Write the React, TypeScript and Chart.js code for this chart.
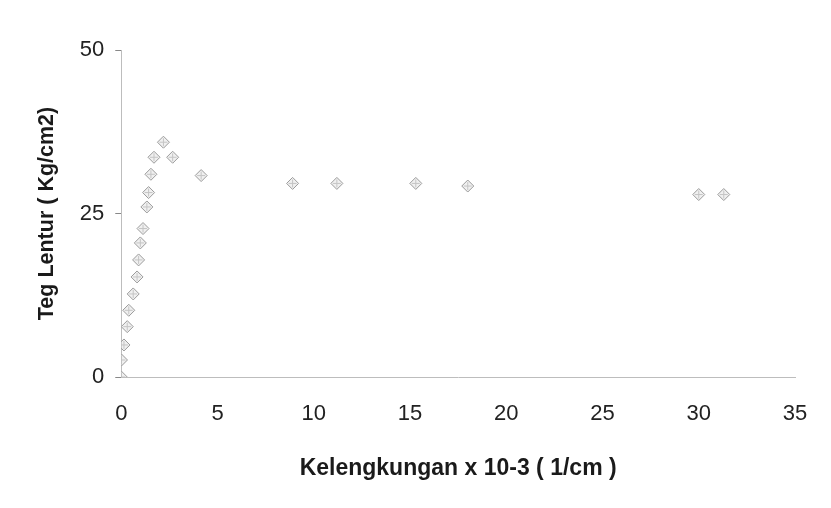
import React, { useEffect, useRef } from "react";
import { Chart, registerables } from "chart.js";

Chart.register(...registerables);

const curvature = [0, 0.01, 0.14, 0.31, 0.39, 0.62, 0.82, 0.9, 0.99, 1.13, 1.33, 1.42, 1.54, 1.7, 2.19, 2.67, 4.15, 8.9, 11.2, 15.3, 18.0, 30.0, 31.3];
const stress = [0, 2.6, 4.9, 7.7, 10.2, 12.7, 15.3, 17.9, 20.5, 22.7, 26, 28.2, 31, 33.6, 35.9, 33.6, 30.8, 29.6, 29.6, 29.6, 29.2, 27.9, 27.9];
const xTitle = "Kelengkungan x 10-3 ( 1/cm )";
const yTitle = "Teg Lentur ( Kg/cm2)";

export default function App() {
  const ref = useRef<HTMLCanvasElement | null>(null);
  useEffect(() => {
    if (!ref.current) return;
    const points = curvature.map((x, i) => ({ x, y: stress[i] }));
    const chart = new Chart(ref.current, {
      type: "scatter",
      data: {
        datasets: [
          {
            data: points,
            pointStyle: "rectRot",
            radius: 6,
            borderWidth: 1,
            borderColor: "#9a9a9a",
            backgroundColor: "rgba(225,225,225,0.5)",
          },
          {
            data: points,
            pointStyle: "cross",
            radius: 4,
            borderWidth: 1,
            borderColor: "#a8a8a8",
            backgroundColor: "transparent",
          },
        ],
      },
      options: {
        animation: false,
        responsive: true,
        maintainAspectRatio: false,
        layout: { padding: { top: 42, right: 28, bottom: 14, left: 22 } },
        plugins: { legend: { display: false }, tooltip: { enabled: false } },
        scales: {
          x: {
            type: "linear",
            min: 0,
            max: 35,
            ticks: {
              stepSize: 5,
              padding: 6,
              color: "#222",
              font: { family: "Liberation Sans", size: 22 },
            },
            grid: {
              display: true,
              drawOnChartArea: false,
              drawTicks: true,
              tickLength: 18,
              tickColor: "rgba(0,0,0,0)",
            },
            border: { display: true, color: "#bdbdbd", dash: [3, 3] },
            title: {
              display: true,
              text: xTitle,
              color: "#1a1a1a",
              padding: { top: 21, bottom: 4 },
              font: { family: "Liberation Sans", size: 23, weight: "bold" },
            },
          },
          y: {
            min: 0,
            max: 50,
            ticks: {
              stepSize: 25,
              padding: 11,
              color: "#222",
              font: { family: "Liberation Sans", size: 22 },
            },
            grid: { drawOnChartArea: false, drawTicks: true, tickLength: 6, color: "#888" },
            border: { display: true, color: "#bdbdbd", dash: [3, 3] },
            title: {
              display: true,
              text: yTitle,
              color: "#1a1a1a",
              padding: { top: 4, bottom: 9 },
              font: { family: "Liberation Sans", size: 21.5, weight: "bold" },
            },
          },
        },
      },
    });
    return () => chart.destroy();
  }, []);
  return (
    <div style={{ width: 815, height: 492 }}>
      <canvas ref={ref} />
    </div>
  );
}
